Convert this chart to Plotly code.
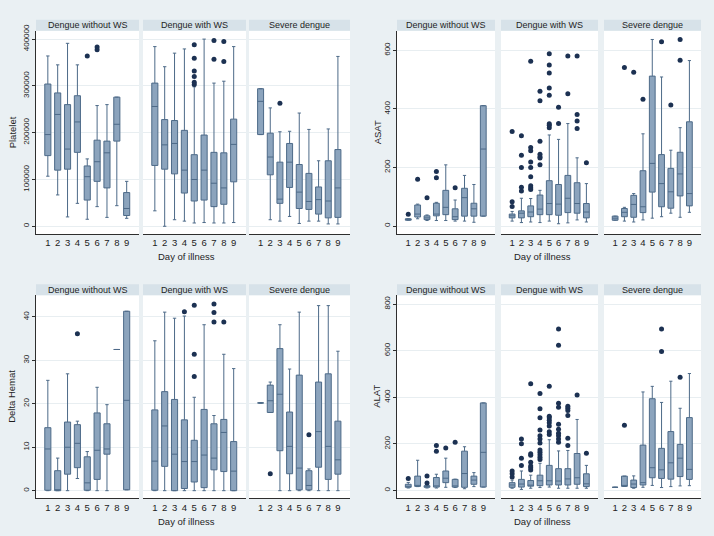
"""Box plots of platelet, ASAT, delta haematocrit and ALAT by day of illness
for three dengue severity groups, drawn as a 2x2 grid of three-panel plots."""

import plotly.graph_objects as go

W, H = 714, 536

DAYS = [1, 2, 3, 4, 5, 6, 7, 8, 9]
GROUPS = ["Dengue without WS", "Dengue with WS", "Severe dengue"]

# per day 1-9: (lower whisker, q1, median, q3, upper whisker)
PLATELET_NO_WS = [
    (107000, 151000, 196000, 304000, 364000),
    (67000, 120000, 239000, 285000, 345000),
    (20000, 122000, 165000, 260000, 391000),
    (49000, 158000, 223000, 279000, 345000),
    (15000, 56000, 106000, 129000, 144000),
    (42000, 96000, 138000, 184000, 258000),
    (19000, 82000, 157000, 182000, 260000),
    (44000, 182000, 218000, 276000, 276000),
    (17000, 23000, 38000, 72000, 96000),
]
PLATELET_NO_WS_OUT = {5: [364000], 6: [377000, 383000]}

PLATELET_WS = [
    (33000, 130000, 256000, 306000, 384000),
    (0, 122000, 174000, 228000, 341000),
    (14000, 112000, 177000, 226000, 370000),
    (11000, 71000, 120000, 205000, 379000),
    (7000, 54000, 100000, 153000, 298000),
    (8000, 56000, 120000, 195000, 400000),
    (7000, 42000, 92000, 158000, 306000),
    (7000, 47000, 82000, 157000, 310000),
    (8000, 95000, 175000, 229000, 384000),
]
PLATELET_WS_OUT = {
    5: [303000, 308000, 320000, 332000, 359000, 388000],
    7: [357000, 397000],
    8: [352000, 395000],
}

PLATELET_SEVERE = [
    (196000, 196000, 267000, 294000, 294000),
    (14000, 110000, 148000, 199000, 253000),
    (11000, 49000, 58000, 137000, 202000),
    (21000, 83000, 137000, 177000, 203000),
    (6000, 38000, 73000, 132000, 242000),
    (11000, 36000, 53000, 113000, 207000),
    (11000, 26000, 57000, 84000, 140000),
    (5000, 18000, 54000, 140000, 208000),
    (5000, 19000, 82000, 164000, 363000),
]
PLATELET_SEVERE_OUT = {3: [263000]}

ASAT_NO_WS = [
    (20, 20, 23, 25, 25),
    (25, 31, 41, 72, 75),
    (19, 22, 28, 35, 38),
    (19, 35, 41, 78, 81),
    (19, 39, 64, 122, 209),
    (17, 22, 32, 59, 89),
    (17, 34, 97, 129, 173),
    (13, 34, 59, 78, 142),
    (34, 34, 263, 411, 411),
]
ASAT_NO_WS_OUT = {1: [40], 2: [160], 3: [97], 4: [165, 186], 6: [131]}

ASAT_WS = [
    (17, 28, 35, 41, 50),
    (12, 28, 44, 52, 95),
    (14, 32, 48, 69, 94),
    (12, 39, 58, 106, 122),
    (17, 39, 77, 155, 311),
    (8, 37, 75, 142, 296),
    (11, 46, 95, 173, 350),
    (21, 44, 77, 148, 233),
    (14, 28, 48, 77, 145),
]
ASAT_WS_OUT = {
    1: [67, 83, 323],
    2: [120, 133, 200, 242, 308],
    3: [125, 131, 138, 168, 200, 219, 257, 268, 563],
    4: [209, 232, 237, 245, 290, 428, 460],
    5: [336, 344, 349, 447, 471, 523, 550, 588],
    6: [350, 406],
    7: [452, 581],
    8: [333, 359, 381, 581],
    9: [216],
}

ASAT_SEVERE = [
    (20, 20, 27, 34, 34),
    (17, 32, 47, 60, 64),
    (14, 30, 74, 105, 111),
    (21, 46, 66, 189, 315),
    (27, 116, 214, 512, 637),
    (32, 66, 145, 244, 509),
    (44, 61, 117, 197, 259),
    (30, 103, 178, 252, 336),
    (47, 69, 111, 356, 565),
]
ASAT_SEVERE_OUT = {2: [541], 3: [525], 4: [433], 6: [629], 7: [413], 8: [566, 637]}

DELTA_NO_WS = [
    (0, 0.1, 9.6, 14.5, 25.4),
    (0, 0, 0.2, 4.6, 7.5),
    (0, 3.8, 10.0, 15.8, 26.9),
    (2.8, 5.3, 10.9, 15.2, 16.0),
    (0, 0.1, 1.8, 7.8, 9.0),
    (0, 2.6, 9.3, 17.9, 23.8),
    (0, 8.4, 9.6, 15.4, 19.8),
    (32.5, 32.5, 32.5, 32.5, 32.5),
    (0.2, 0.2, 20.8, 41.3, 41.3),
]
DELTA_NO_WS_OUT = {4: [36.1]}

DELTA_WS = [
    (0, 0.1, 6.8, 18.6, 34.5),
    (0, 5.6, 14.9, 22.8, 41.1),
    (0, 0, 8.4, 21.0, 39.7),
    (0, 0.5, 6.7, 16.3, 40.2),
    (0, 2.0, 6.7, 11.6, 21.5),
    (0, 0.7, 8.2, 18.7, 38.2),
    (0, 4.8, 7.5, 15.4, 17.3),
    (0, 4.4, 13.4, 16.4, 31.4),
    (0, 0, 4.5, 11.3, 28.1),
]
DELTA_WS_OUT = {4: [41.2], 5: [26.3, 31.4, 42.7], 7: [38.8, 41.0, 43.0], 8: [38.8]}

DELTA_SEVERE = [
    (20.2, 20.2, 20.2, 20.2, 20.2),
    (18.0, 18.0, 20.7, 24.3, 25.0),
    (0, 9.2, 22.2, 32.7, 38.2),
    (0, 3.9, 10.2, 18.1, 28.0),
    (0, 0.2, 5.2, 26.6, 41.1),
    (0, 0.2, 1.2, 4.6, 5.0),
    (0, 5.4, 13.6, 25.0, 42.6),
    (0, 2.6, 10.2, 26.9, 42.6),
    (0, 3.8, 7.1, 16.0, 32.1),
]
DELTA_SEVERE_OUT = {2: [3.9], 6: [12.9]}

ALAT_NO_WS = [
    (11, 14, 18, 27, 35),
    (17, 18, 20, 62, 130),
    (11, 14, 17, 21, 21),
    (11, 15, 20, 56, 70),
    (14, 34, 53, 84, 139),
    (13, 15, 20, 48, 49),
    (8, 14, 73, 169, 188),
    (17, 27, 45, 62, 77),
    (15, 15, 164, 376, 376),
]
ALAT_NO_WS_OUT = {1: [52], 3: [32, 62], 4: [169, 193], 5: [183], 6: [207]}

ALAT_WS = [
    (10, 14, 24, 34, 45),
    (5, 15, 28, 48, 84),
    (10, 19, 21, 43, 66),
    (13, 21, 42, 66, 117),
    (15, 24, 42, 108, 218),
    (10, 24, 41, 94, 170),
    (10, 24, 50, 94, 172),
    (10, 27, 55, 159, 305),
    (10, 17, 29, 72, 108),
]
ALAT_WS_OUT = {
    1: [58, 72, 84],
    2: [108, 139, 201, 221],
    3: [88, 98, 105, 121, 151, 158, 458],
    4: [133, 143, 154, 164, 174, 204, 221, 235, 260, 312, 351, 416],
    5: [240, 252, 277, 291, 302, 312, 319, 447],
    6: [207, 221, 235, 246, 263, 284, 357, 375, 623, 693],
    7: [193, 224, 322, 343, 353, 362],
    8: [410],
    9: [160],
}

ALAT_SEVERE = [
    (14, 14, 14, 14, 14),
    (18, 18, 20, 62, 62),
    (10, 13, 28, 45, 63),
    (14, 24, 34, 195, 423),
    (22, 55, 98, 394, 447),
    (13, 52, 89, 181, 378),
    (17, 49, 119, 253, 469),
    (20, 60, 139, 198, 353),
    (21, 48, 91, 313, 502),
]
ALAT_SEVERE_OUT = {2: [280], 6: [596, 693], 8: [486]}

PLATELET_TICKS = [0, 100000, 200000, 300000, 400000]
ASAT_TICKS = [0, 200, 400, 600]
DELTA_TICKS = [0, 10, 20, 30, 40]
ALAT_TICKS = [0, 200, 400, 600, 800]

# styling
FONT = "Liberation Sans, Arial, sans-serif"
PAPER_BG = "#eaf0f3"
STRIP_BG = "#d7e2e9"
BOX_FILL = "#8ca4bd"
BOX_LINE = "#4d6a88"
DOT = "#1c3152"
AXIS = "#2e2e2e"
GRID = "#e8eef1"

# panel layout in pixels: left/right edges of the three sub-panels, top/bottom of plot area
LEFT_COLS = [(36, 139), (143, 246), (249, 350)]
RIGHT_COLS = [(397, 495), (501, 598), (604, 701)]
TOP_ROW = (24, 230)
BOTTOM_ROW = (292, 498)
STRIP_H = 11

PANELS = [
    dict(title="Platelet", cols=LEFT_COLS, row=TOP_ROW, yrange=[-16500, 418000],
         ticks=PLATELET_TICKS, data=[PLATELET_NO_WS, PLATELET_WS, PLATELET_SEVERE],
         out=[PLATELET_NO_WS_OUT, PLATELET_WS_OUT, PLATELET_SEVERE_OUT], title_x=12),
    dict(title="ASAT", cols=RIGHT_COLS, row=TOP_ROW, yrange=[-27, 667],
         ticks=ASAT_TICKS, data=[ASAT_NO_WS, ASAT_WS, ASAT_SEVERE],
         out=[ASAT_NO_WS_OUT, ASAT_WS_OUT, ASAT_SEVERE_OUT], title_x=377),
    dict(title="Delta Hemat", cols=LEFT_COLS, row=BOTTOM_ROW, yrange=[-1.8, 45],
         ticks=DELTA_TICKS, data=[DELTA_NO_WS, DELTA_WS, DELTA_SEVERE],
         out=[DELTA_NO_WS_OUT, DELTA_WS_OUT, DELTA_SEVERE_OUT], title_x=12),
    dict(title="ALAT", cols=RIGHT_COLS, row=BOTTOM_ROW, yrange=[-34, 838],
         ticks=ALAT_TICKS, data=[ALAT_NO_WS, ALAT_WS, ALAT_SEVERE],
         out=[ALAT_NO_WS_OUT, ALAT_WS_OUT, ALAT_SEVERE_OUT], title_x=377),
]


def px_x(x):
    return x / W


def px_y(y):
    return 1 - y / H


def main():
    fig = go.Figure()
    layout = {}
    shapes = []
    annotations = []

    k = 0
    for panel in PANELS:
        top, bottom = panel["row"]
        for g, (x0, x1) in enumerate(panel["cols"]):
            k += 1
            sfx = "" if k == 1 else str(k)
            stats = panel["data"][g]
            fig.add_trace(go.Box(
                x=DAYS,
                lowerfence=[s[0] for s in stats],
                q1=[s[1] for s in stats],
                median=[s[2] for s in stats],
                q3=[s[3] for s in stats],
                upperfence=[s[4] for s in stats],
                width=0.62,
                whiskerwidth=0.55,
                fillcolor=BOX_FILL,
                line=dict(color=BOX_LINE, width=1),
                boxpoints=False,
                showlegend=False,
                xaxis="x" + sfx,
                yaxis="y" + sfx,
            ))
            outs = panel["out"][g]
            ox = [d for d in outs for _ in outs[d]]
            oy = [v for d in outs for v in outs[d]]
            if ox:
                fig.add_trace(go.Scatter(
                    x=ox, y=oy, mode="markers",
                    marker=dict(color=DOT, size=5, symbol="circle"),
                    showlegend=False,
                    xaxis="x" + sfx,
                    yaxis="y" + sfx,
                ))

            layout["xaxis" + sfx] = dict(
                domain=[px_x(x0), px_x(x1)],
                anchor="y" + sfx,
                range=[-0.2, 10.25],
                tickvals=DAYS,
                ticktext=[str(d) for d in DAYS],
                ticks="",
                showgrid=False,
                zeroline=False,
                showline=True,
                linecolor=AXIS,
                linewidth=1,
                tickfont=dict(size=9.5, color="#222"),
                fixedrange=True,
            )
            first = g == 0
            layout["yaxis" + sfx] = dict(
                domain=[px_y(bottom), px_y(top)],
                anchor="x" + sfx,
                range=panel["yrange"],
                tickvals=panel["ticks"],
                ticktext=[str(v) for v in panel["ticks"]],
                showticklabels=first,
                ticks="outside" if first else "",
                ticklen=3,
                tickcolor=AXIS,
                tickangle=-90,
                showgrid=True,
                gridcolor=GRID,
                gridwidth=1,
                zeroline=False,
                showline=first,
                linecolor=AXIS,
                linewidth=1,
                tickfont=dict(size=8, color="#222"),
                fixedrange=True,
            )

            # strip header above each sub-panel
            shapes.append(dict(
                type="rect", xref="paper", yref="paper",
                x0=px_x(x0), x1=px_x(x1),
                y0=px_y(top), y1=px_y(top - STRIP_H),
                fillcolor=STRIP_BG, line=dict(width=0), layer="below",
            ))
            annotations.append(dict(
                text=GROUPS[g], xref="paper", yref="paper",
                x=px_x((x0 + x1) / 2), y=px_y(top - STRIP_H / 2),
                xanchor="center", yanchor="middle", showarrow=False,
                font=dict(size=9, color="#1e1e1e"),
            ))

        cols = panel["cols"]
        annotations.append(dict(
            text="Day of illness", xref="paper", yref="paper",
            x=px_x((cols[0][0] + cols[2][1]) / 2 - 7), y=px_y(bottom + 23),
            xanchor="center", yanchor="middle", showarrow=False,
            font=dict(size=9.5, color="#1e1e1e"),
        ))
        annotations.append(dict(
            text=panel["title"], xref="paper", yref="paper",
            x=px_x(panel["title_x"]), y=px_y((top + bottom) / 2),
            xanchor="center", yanchor="middle", showarrow=False, textangle=-90,
            font=dict(size=9.5, color="#1e1e1e"),
        ))

    fig.update_layout(
        width=W,
        height=H,
        margin=dict(l=0, r=0, t=0, b=0),
        paper_bgcolor=PAPER_BG,
        plot_bgcolor="white",
        font=dict(family=FONT, color="#222"),
        shapes=shapes,
        annotations=annotations,
        showlegend=False,
        **layout,
    )
    # the page body has a default 8px margin; drop it so the figure fills the window
    fig.write_html(
        "out.html",
        config={"displayModeBar": False},
        post_script="document.body.style.margin = '0px';",
    )


if __name__ == "__main__":
    main()
